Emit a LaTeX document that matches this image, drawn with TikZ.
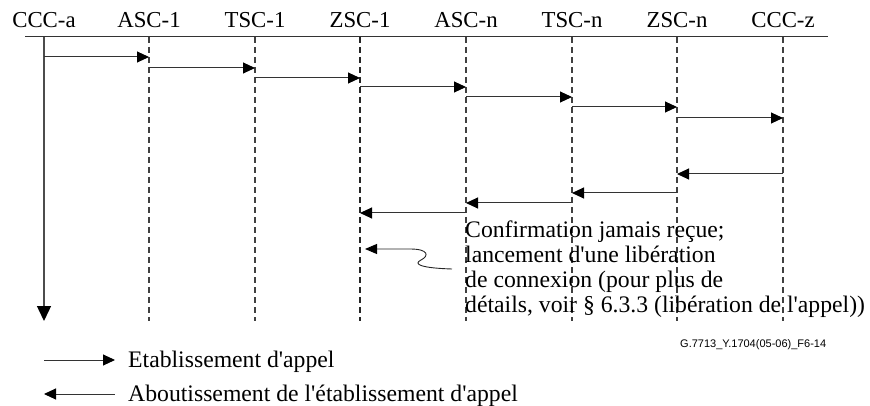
\documentclass[tikz,border=0pt]{standalone}
\usepackage{fontspec}
\setmainfont{Liberation Serif}[Ligatures=TeXOff]
\newfontfamily\figsans{Liberation Sans}
\usetikzlibrary{arrows.meta}
\begin{document}
\begin{tikzpicture}[x=1pt,y=-1pt,
  lbl/.style={font=\fontsize{23.7}{25}\selectfont, inner sep=0pt},
  hdr/.style={font=\fontsize{22.8}{25}\selectfont, inner sep=0pt},
  life/.style={line width=1.1pt, dash pattern=on 6pt off 4pt, draw=black!75},
  msg/.style={line width=1pt, draw=black!80, -{Triangle[length=12pt,width=11pt,black]}},
  back/.style={line width=1pt, draw=black!80, {Triangle[length=12pt,width=11pt,black]}-},
  ]
\useasboundingbox (0,0) rectangle (870,406);
% header line
\draw[line width=1pt, black!80] (25,37) -- (828,37);
% lifeline labels and lifeline ends
\foreach \n/\x/\t in {a/44/CCC-a, b/149/ASC-1, c/255/TSC-1, d/360/ZSC-1, e/466/ASC-n, f/572/TSC-n, g/677/ZSC-n, h/783/CCC-z} {
  \node[hdr, anchor=base] (h\n) at (\x,28) {\t};
  \coordinate (top\n) at (\x,37);
  \coordinate (bot\n) at (\x,321);
}
% lifelines
\draw[line width=1.4pt, black!70, -{Triangle[length=15pt,width=14pt,black]}] (topa) -- (bota);
\foreach \n in {b,c,e,f,g,h} { \draw[life] (top\n) -- (bot\n); }
\draw[life, line width=1.5pt, draw=black!85] (topd) -- (botd);
% call set-up messages
\foreach \s/\t/\y in {a/b/57, b/c/68, c/d/78, d/e/87, e/f/97, f/g/107, g/h/118} {
  \draw[msg] (top\s |- 0,\y) -- (top\t |- 0,\y);
}
% completion messages
\foreach \s/\t/\y in {h/g/174, g/f/193, f/e/203, e/d/213} {
  \draw[msg] (top\s |- 0,\y) -- (top\t |- 0,\y);
}
% note
\node[lbl, anchor=base west, align=left] (note) at (465,312)
  {Confirmation jamais reçue;\\lancement d'une libération\\de connexion (pour plus de\\détails, voir § 6.3.3 (libération de l'appel))};
\coordinate (sqtip) at (365,249);
\coordinate (sqend) at (452,269);
\draw[line width=0.9pt, black!85, {Triangle[length=12pt,width=10pt,black]}-]
  (sqtip) -- (410,249) .. controls (429,249) and (429,256) .. (421,260)
  .. controls (413,264) and (420,268) .. (sqend);
% figure id
\node[font=\figsans\fontsize{11}{12}\selectfont, inner sep=0pt, anchor=base west] (figid) at (680,347) {G.7713\_Y.1704(05-06)\_F6-14};
% legend
\coordinate (l1a) at (44,360); \coordinate (l1b) at (115,360);
\coordinate (l2a) at (44,394); \coordinate (l2b) at (115,394);
\draw[msg] (l1a) -- (l1b);
\draw[back] (l2a) -- (l2b);
\node[lbl, anchor=base west] (leg1) at (128,367) {Etablissement d'appel};
\node[lbl, anchor=base west] (leg2) at (128,401) {Aboutissement de l'établissement d'appel};
\end{tikzpicture}
\end{document}
